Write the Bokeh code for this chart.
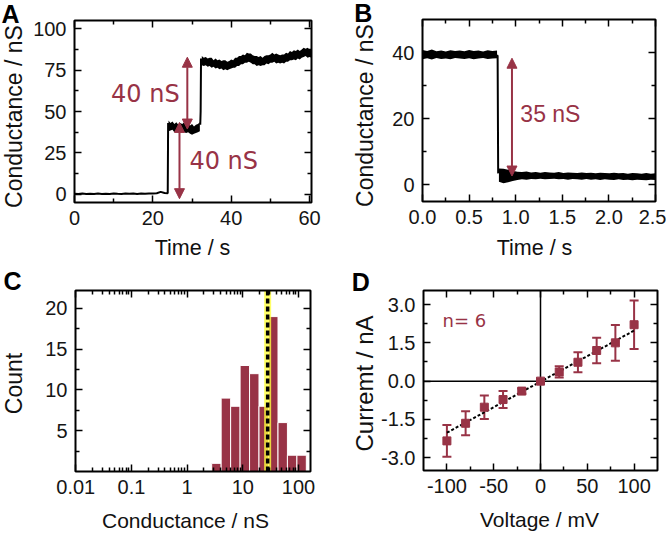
import numpy as np
from math import pi, log10
from bokeh.plotting import figure
from bokeh.models import (Range1d, FixedTicker, LinearAxis, LogAxis, Label, Arrow, NormalHead,
                          BoxAnnotation, Whisker, TeeHead, ColumnDataSource, PrintfTickFormatter,
                          CustomJSTickFormatter)
from bokeh.layouts import gridplot
from bokeh.embed import file_html
from bokeh.resources import INLINE

# ---------------- data ----------------
# Panel A: conductance trace (nS) vs time (s)
A_base_t0, A_base_dt = 0.0, 1.0
A_base_g = [0.3, 0.1, 0.4, 0.2, 0.3, 0.1, 0.4, 0.2, 0.3, 0.2, 0.5, 0.3, 0.2, 0.4,
            0.3, 0.5, 0.2, 0.4, 0.3, 0.5, 0.4, 0.6, 1.4, 0.7]
A_jump1_t = [23.8, 23.9]
A_jump1_g = [0.6, 43.0]
# noisy plateau 1: envelope (upper / lower edge of the noise band)
A_pl1_t0, A_pl1_dt = 24.0, 0.5
A_pl1_hi = [44.5, 43, 44, 42.5, 43.5, 42, 43, 42.5, 43.5, 42, 42.5, 41.5, 42.5, 41, 42, 42.5, 43.5]
A_pl1_lo = [38, 38.5, 39, 37.5, 38.5, 37.5, 38, 38.5, 37.5, 37, 37.5, 36.5, 36, 36.5, 37, 37.5, 38]
A_jump2_t = [32.1, 32.2, 32.3]
A_jump2_g = [42.0, 50.0, 82.0]
# noisy plateau 2
A_pl2_t0, A_pl2_dt = 32.5, 0.5
A_pl2_hi = [83.5, 82.5, 83, 82, 82.5, 82.5, 81, 82, 81, 81.5, 80.5, 81, 81, 80, 80.5, 81.5,
            81, 82.5, 82.5, 83.5, 83.5, 84.5, 84, 85.5, 85, 85, 84, 83.5, 83.5, 83, 83.5, 82.5,
            83.5, 84, 84, 84.5, 85.5, 84.5, 85, 84.5, 84, 84.5, 84.5, 85.5, 85, 86.5, 86,
            87, 86.5, 87.5, 86.5, 87.5, 88.5, 88, 88.5, 87.5, 88]
A_pl2_lo = [78, 77.5, 78, 77, 77.5, 76.5, 77, 76, 76.5, 75.5, 76, 75, 75.5, 75, 75.5, 76,
            76.5, 76.5, 77.5, 77.5, 78.5, 78.5, 79.5, 79.5, 80, 79.5, 78.5, 78.5, 77.5, 78,
            77.5, 78, 78, 79, 78.5, 79.5, 79.5, 80, 79, 79.5, 79, 79.5, 79, 80, 80, 81, 81,
            81.5, 81, 82, 81.5, 82.5, 83, 83.5, 82.5, 83, 82.5]
A_arrow_t = [28.8, 26.8]
A_arrow_lo = [39.4, -2.7]
A_arrow_hi = [82.8, 43.4]
A_text_t = [18.1, 38.1]
A_text_g = [60.6, 20.2]
A_text = ["40 nS", "40 nS"]

# Panel B
B_pl1_t0, B_pl1_dt = 0.0, 0.05
B_pl1_hi = [40.8, 40.5, 40.9, 40.4, 40.6, 40.3, 40.7, 40.5, 40.6, 40.4, 40.8, 40.5, 40.6,
            40.3, 40.7, 40.5, 40.6]
B_pl1_lo = [38.0, 38.3, 37.9, 38.4, 38.1, 38.2, 38.0, 38.4, 38.2, 38.1, 38.3, 38.0, 38.2,
            38.4, 38.1, 38.2, 38.3]
B_jump_t = [0.80, 0.806, 0.812]
B_jump_g = [39.3, 39.0, 3.5]
B_pl2_t0, B_pl2_dt = 0.82, 0.0494
B_pl2_hi = [5.0, 4.9, 4.6, 4.3, 4.0, 3.9, 4.1, 3.8, 3.9, 3.7, 3.9, 3.8, 3.7, 3.9, 3.6, 3.8,
            3.7, 3.6, 3.8, 3.6, 3.7, 3.5, 3.7, 3.6, 3.5, 3.7, 3.5, 3.6, 3.4, 3.6, 3.5, 3.4,
            3.6, 3.4, 3.5]
B_pl2_lo = [1.0, 0.5, 0.8, 1.2, 1.5, 1.7, 1.6, 1.8, 1.7, 1.9, 1.7, 1.8, 1.9, 1.7, 1.8, 1.6,
            1.8, 1.7, 1.6, 1.8, 1.6, 1.7, 1.5, 1.7, 1.6, 1.5, 1.7, 1.5, 1.6, 1.4, 1.6, 1.5,
            1.4, 1.6, 1.5]
B_arrow_t = 0.96
B_arrow_lo = 2.7
B_arrow_hi = 38.3
B_text_t, B_text_g, B_text = 1.05, 21.5, "35 nS"

# Panel C: histogram
C_edges = [2.76, 4.08, 6.04, 8.93, 13.2, 19.5, 28.9, 42.8, 63.2, 93.5, 138.0]
C_counts = [1, 9, 8, 13, 12, 8, 19, 6, 2, 2]
C_mean = 27.9

# Panel D: I-V
D_v = [-100, -80, -60, -40, -20, 0, 20, 40, 60, 80, 100]
D_i = [-2.34, -1.65, -1.02, -0.72, -0.39, 0.0, 0.36, 0.74, 1.20, 1.50, 2.21]
D_err = [0.62, 0.47, 0.46, 0.33, 0.10, 0.03, 0.22, 0.39, 0.50, 0.70, 0.95]
D_fit_v = [-100, 100]
D_fit_i = [-2.02, 1.98]
D_n_label = "n= 6"
D_n_pos = (-104.6, 2.37)

# tick definitions
A_xt, A_xm = [0, 20, 40, 60], [10, 30, 50]
A_yt, A_ym = [0, 25, 50, 75, 100], [12.5, 37.5, 62.5, 87.5]
B_xt, B_xm = [0, 0.5, 1.0, 1.5, 2.0, 2.5], [0.25, 0.75, 1.25, 1.75, 2.25]
B_yt, B_ym = [0, 20, 40], [10, 30]
C_xt = [0.01, 0.1, 1, 10, 100]
C_xm = [k * 10.0 ** e for e in range(-2, 3) for k in range(2, 10) if k * 10.0 ** e < 160]
C_yt, C_ym = [5, 10, 15, 20], [2.5, 7.5, 12.5, 17.5]
D_xt, D_xm = [-100, -50, 0, 50, 100], [-75, -25, 25, 75]
D_yt, D_ym = [-3.0, -1.5, 0.0, 1.5, 3.0], [-2.25, -0.75, 0.75, 2.25]

# ---------------- style / geometry ----------------
FONT = "Liberation Sans"
RED = "#983346"
TICKC = "#151515"

# canvas size, plot-box position in canvas pixels, and data ranges of the box
GA = dict(W=333, H=266, L=74, R=311, T=20, B=202, xr=(0, 60.5), yr=(-5, 105), log=False)
GB = dict(W=333, H=266, L=89, R=322, T=19, B=201, xr=(0, 2.5), yr=(-5, 50), log=False)
GC = dict(W=333, H=267, L=75, R=310, T=24, B=205, xr=(0.0099, 164), yr=(0, 22.2), log=True)
GD = dict(W=333, H=267, L=90, R=324, T=24, B=204, xr=(-125, 125), yr=(-3.5, 3.55), log=False)


def cx2x(G, cx):
    x0, x1 = G["xr"]
    f = (cx - G["L"]) / (G["R"] - G["L"])
    if G["log"]:
        return 10 ** (log10(x0) + f * (log10(x1) - log10(x0)))
    return x0 + f * (x1 - x0)


def cy2y(G, cy):
    y0, y1 = G["yr"]
    f = (cy - G["T"]) / (G["B"] - G["T"])
    return y1 - f * (y1 - y0)


def make_fig(G):
    # the frame fills the whole canvas; the plot box is drawn inside it
    p = figure(width=G["W"], height=G["H"],
               x_range=Range1d(cx2x(G, 0), cx2x(G, G["W"])),
               y_range=Range1d(cy2y(G, G["H"]), cy2y(G, 0)),
               x_axis_type="log" if G["log"] else "linear",
               x_axis_location=None, y_axis_location=None,
               output_backend="svg", toolbar_location=None, min_border=0)
    p.outline_line_color = None
    p.grid.visible = False
    p.background_fill_color = "white"
    p.border_fill_color = "white"
    x0, x1 = G["xr"]
    y0, y1 = G["yr"]
    p.add_layout(BoxAnnotation(left=x0, right=x1, bottom=y0, top=y1, fill_alpha=0,
                               line_color="black", line_width=2, line_alpha=1))
    return p


def style_axis(ax, major, minor, fmt=None, show=True):
    ax.ticker = FixedTicker(ticks=major, minor_ticks=minor)
    ax.axis_line_color = None
    ax.major_tick_in = 7
    ax.major_tick_out = 0
    ax.minor_tick_in = 4
    ax.minor_tick_out = 0
    ax.major_tick_line_color = "black"
    ax.major_tick_line_width = 1.5
    ax.minor_tick_line_color = "black"
    ax.minor_tick_line_width = 1.5
    ax.axis_label = None
    if show:
        ax.major_label_text_font = FONT
        ax.major_label_text_font_size = "20px"
        ax.major_label_text_color = TICKC
        ax.major_label_standoff = 8
        if fmt is not None:
            ax.formatter = fmt
    else:
        ax.major_label_text_font_size = "0px"
        ax.major_label_standoff = 0
        ax.formatter = CustomJSTickFormatter(code="return ''")


def setup_axes(p, G, xt, xm, yt, ym, xfmt=None, yfmt=None):
    x0, x1 = G["xr"]
    y0, y1 = G["yr"]
    AX = LogAxis if G["log"] else LinearAxis
    bottom = AX(fixed_location=y0)
    style_axis(bottom, xt, xm, xfmt)
    p.add_layout(bottom, "below")
    top = AX(fixed_location=y1)
    style_axis(top, xt, xm, show=False)
    p.add_layout(top, "above")
    left = LinearAxis(fixed_location=x0)
    style_axis(left, yt, ym, yfmt)
    p.add_layout(left, "left")
    right = LinearAxis(fixed_location=x1)
    style_axis(right, yt, ym, show=False)
    p.add_layout(right, "right")


def clabel(p, G, cx, cy, text, size, angle=0.0, align="center",
           bold=False, font=FONT, color="#111111"):
    # cx, cy: canvas pixel position of the text's centre line, converted to data units
    p.add_layout(Label(x=cx2x(G, cx), y=cy2y(G, cy), text=text, angle=angle,
                       text_align=align, text_baseline="middle", text_font=font,
                       text_font_size=f"{size}px", text_color=color,
                       text_font_style="bold" if bold else "normal"))


def seg(t0, dt, vals):
    return list(t0 + dt * np.arange(len(vals)))


def arrow(p, x, lo, hi):
    p.add_layout(Arrow(x_start=x, y_start=lo, x_end=x, y_end=hi, line_color=RED, line_width=2,
                       start=NormalHead(size=10, fill_color=RED, line_color=RED, line_width=1),
                       end=NormalHead(size=10, fill_color=RED, line_color=RED, line_width=1)))


# ---------------- Panel A ----------------
pA = make_fig(GA)
setup_axes(pA, GA, A_xt, A_xm, A_yt, A_ym)
pA.line(seg(A_base_t0, A_base_dt, A_base_g) + A_jump1_t, A_base_g + A_jump1_g,
        line_color="black", line_width=2)
pA.line(A_jump2_t, A_jump2_g, line_color="black", line_width=2)
pA.varea(x=seg(A_pl1_t0, A_pl1_dt, A_pl1_hi), y1=A_pl1_lo, y2=A_pl1_hi, fill_color="black")
pA.varea(x=seg(A_pl2_t0, A_pl2_dt, A_pl2_hi), y1=A_pl2_lo, y2=A_pl2_hi, fill_color="black")
for t, lo, hi in zip(A_arrow_t, A_arrow_lo, A_arrow_hi):
    arrow(pA, t, lo, hi)
for t, g, s in zip(A_text_t, A_text_g, A_text):
    pA.add_layout(Label(x=t, y=g, text=s, text_align="center", text_baseline="middle",
                        text_font="DejaVu Sans", text_font_size="24px", text_color=RED))
clabel(pA, GA, 13, 116, "Conductance / nS", 23, angle=pi / 2)
clabel(pA, GA, 192, 247, "Time / s", 21.5)
clabel(pA, GA, 1, 13.5, "A", 25, align="left", bold=True, color="black")

# ---------------- Panel B ----------------
pB = make_fig(GB)
setup_axes(pB, GB, B_xt, B_xm, B_yt, B_ym, xfmt=PrintfTickFormatter(format="%.1f"))
pB.varea(x=seg(B_pl1_t0, B_pl1_dt, B_pl1_hi), y1=B_pl1_lo, y2=B_pl1_hi, fill_color="black")
pB.line(B_jump_t, B_jump_g, line_color="black", line_width=2)
pB.varea(x=seg(B_pl2_t0, B_pl2_dt, B_pl2_hi), y1=B_pl2_lo, y2=B_pl2_hi, fill_color="black")
arrow(pB, B_arrow_t, B_arrow_lo, B_arrow_hi)
pB.add_layout(Label(x=B_text_t, y=B_text_g, text=B_text, text_align="left", text_baseline="middle",
                    text_font=FONT, text_font_size="23px", text_color=RED))
clabel(pB, GB, 31, 115, "Conductance / nS", 23, angle=pi / 2)
clabel(pB, GB, 201, 247, "Time / s", 21.5)
clabel(pB, GB, 20.7, 12, "B", 25, align="left", bold=True, color="black")

# ---------------- Panel C ----------------
pC = make_fig(GC)
setup_axes(pC, GC, C_xt, C_xm, C_yt, C_ym,
           xfmt=CustomJSTickFormatter(code="return tick.toString()"))
pC.quad(left=C_edges[:-1], right=C_edges[1:], bottom=0, top=C_counts,
        fill_color=RED, line_color="white", line_width=1)
pC.line([C_mean, C_mean], list(GC["yr"]), line_color="#ffff40", line_alpha=0.8, line_width=7)
pC.line([C_mean, C_mean], list(GC["yr"]), line_color="black", line_width=3.5, line_dash="5 3")
clabel(pC, GC, 13, 117, "Count", 23, angle=pi / 2)
clabel(pC, GC, 185, 254, "Conductance / nS", 21)
clabel(pC, GC, 3, 14, "C", 25, align="left", bold=True, color="black")

# ---------------- Panel D ----------------
pD = make_fig(GD)
setup_axes(pD, GD, D_xt, D_xm, D_yt, D_ym, xfmt=PrintfTickFormatter(format="%d"),
           yfmt=PrintfTickFormatter(format="%.1f"))
pD.line([0, 0], list(GD["yr"]), line_color="black", line_width=1.5)
pD.line(list(GD["xr"]), [0, 0], line_color="black", line_width=1.5)
pD.line(D_fit_v, D_fit_i, line_color="black", line_width=2, line_dash="3 2")
srcD = ColumnDataSource(dict(v=D_v, i=D_i,
                             up=[a + e for a, e in zip(D_i, D_err)],
                             lo=[a - e for a, e in zip(D_i, D_err)]))
pD.add_layout(Whisker(source=srcD, base="v", upper="up", lower="lo", line_color=RED, line_width=2,
                      upper_head=TeeHead(size=9, line_color=RED, line_width=2),
                      lower_head=TeeHead(size=9, line_color=RED, line_width=2)))
pD.scatter("v", "i", source=srcD, marker="square", size=8, fill_color=RED, line_color=RED)
pD.add_layout(Label(x=D_n_pos[0], y=D_n_pos[1], text=D_n_label, text_align="left",
                    text_baseline="middle", text_font="DejaVu Sans", text_font_size="18px",
                    text_color=RED))
clabel(pD, GD, 31, 117, "Curremt / nA", 24, angle=pi / 2)
clabel(pD, GD, 206, 253, "Voltage / mV", 21)
clabel(pD, GD, 18.3, 15.8, "D", 25, align="left", bold=True, color="black")

grid = gridplot([[pA, pB], [pC, pD]], toolbar_location=None)
open("out.html", "w").write(file_html(grid, INLINE))
